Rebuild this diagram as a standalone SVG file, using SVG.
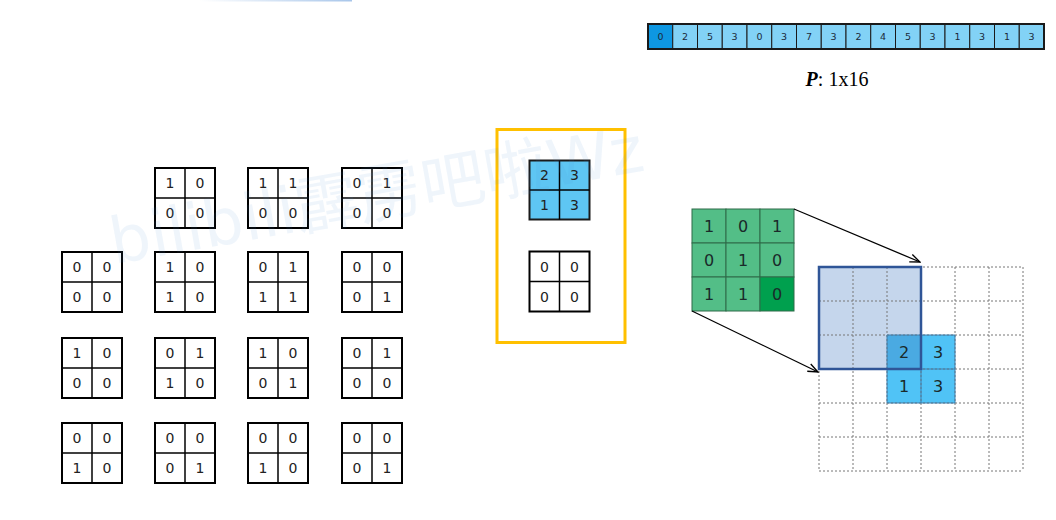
<svg xmlns="http://www.w3.org/2000/svg" width="1056" height="520" viewBox="0 0 1056 520">
<defs>
<linearGradient id="topbar" x1="0" y1="0" x2="1" y2="0">
<stop offset="0" stop-color="#ffffff"/>
<stop offset="1" stop-color="#a8c6ea"/>
</linearGradient>
<marker id="arr" markerUnits="userSpaceOnUse" markerWidth="12" markerHeight="10" refX="11" refY="5" orient="auto">
<path d="M1,1 L11,5 L1,9" fill="none" stroke="#000" stroke-width="1.3"/>
</marker>
<style>
.box{fill:#fff;stroke:#000;stroke-width:2}
.ln{stroke:#000;stroke-width:1.5}
.d{font-family:"DejaVu Sans",Verdana,sans-serif;font-size:14px;text-anchor:middle;fill:#222}
.s{font-family:"DejaVu Sans",Verdana,sans-serif;font-size:9.5px;text-anchor:middle;fill:#1a2a3a}
.g{font-family:"DejaVu Sans",Verdana,sans-serif;font-size:16px;text-anchor:middle;fill:#1a2a2a}
.cell{fill:#82d2f6;stroke:#1a1a1a;stroke-width:1}
.gc{fill:#53be87;stroke:#2e6b48;stroke-width:1}
.dash{stroke:#777;stroke-width:1;stroke-dasharray:2 2;fill:none}
</style>
</defs>
<rect width="1056" height="520" fill="#ffffff"/>
<rect x="200" y="0" width="152" height="1.5" fill="url(#topbar)"/>

<g id="P-vector">
<rect x="648" y="24" width="24.75" height="25" fill="#0e97e2" stroke="#1a1a1a" stroke-width="1"/>
<rect class="cell" x="672.75" y="24" width="24.75" height="25"/>
<rect class="cell" x="697.5" y="24" width="24.75" height="25"/>
<rect class="cell" x="722.25" y="24" width="24.75" height="25"/>
<rect class="cell" x="747" y="24" width="24.75" height="25"/>
<rect class="cell" x="771.75" y="24" width="24.75" height="25"/>
<rect class="cell" x="796.5" y="24" width="24.75" height="25"/>
<rect class="cell" x="821.25" y="24" width="24.75" height="25"/>
<rect class="cell" x="846" y="24" width="24.75" height="25"/>
<rect class="cell" x="870.75" y="24" width="24.75" height="25"/>
<rect class="cell" x="895.5" y="24" width="24.75" height="25"/>
<rect class="cell" x="920.25" y="24" width="24.75" height="25"/>
<rect class="cell" x="945" y="24" width="24.75" height="25"/>
<rect class="cell" x="969.75" y="24" width="24.75" height="25"/>
<rect class="cell" x="994.5" y="24" width="24.75" height="25"/>
<rect class="cell" x="1019.25" y="24" width="24.75" height="25"/>
<rect x="648" y="24" width="396" height="25" fill="none" stroke="#1a1a1a" stroke-width="2"/>
<text class="s" x="660.4" y="39.5">0</text>
<text class="s" x="685.1" y="39.5">2</text>
<text class="s" x="709.9" y="39.5">5</text>
<text class="s" x="734.6" y="39.5">3</text>
<text class="s" x="759.4" y="39.5">0</text>
<text class="s" x="784.1" y="39.5">3</text>
<text class="s" x="808.9" y="39.5">7</text>
<text class="s" x="833.6" y="39.5">3</text>
<text class="s" x="858.4" y="39.5">2</text>
<text class="s" x="883.1" y="39.5">4</text>
<text class="s" x="907.9" y="39.5">5</text>
<text class="s" x="932.6" y="39.5">3</text>
<text class="s" x="957.4" y="39.5">1</text>
<text class="s" x="982.1" y="39.5">3</text>
<text class="s" x="1006.9" y="39.5">1</text>
<text class="s" x="1031.6" y="39.5">3</text>
<text x="837" y="86" font-family="'Liberation Serif','Times New Roman',serif" font-size="20" text-anchor="middle" fill="#000"><tspan font-weight="bold" font-style="italic">P</tspan>: 1x16</text>
</g>

<g id="pattern-r1c2"><rect class="box" x="155" y="168" width="60" height="60"/><line class="ln" x1="185" y1="168" x2="185" y2="228"/><line class="ln" x1="155" y1="198" x2="215" y2="198"/><text class="d" x="170" y="188">1</text><text class="d" x="200" y="188">0</text><text class="d" x="170" y="218">0</text><text class="d" x="200" y="218">0</text></g>
<g id="pattern-r1c3"><rect class="box" x="248" y="168" width="60" height="60"/><line class="ln" x1="278" y1="168" x2="278" y2="228"/><line class="ln" x1="248" y1="198" x2="308" y2="198"/><text class="d" x="263" y="188">1</text><text class="d" x="293" y="188">1</text><text class="d" x="263" y="218">0</text><text class="d" x="293" y="218">0</text></g>
<g id="pattern-r1c4"><rect class="box" x="342" y="168" width="60" height="60"/><line class="ln" x1="372" y1="168" x2="372" y2="228"/><line class="ln" x1="342" y1="198" x2="402" y2="198"/><text class="d" x="357" y="188">0</text><text class="d" x="387" y="188">1</text><text class="d" x="357" y="218">0</text><text class="d" x="387" y="218">0</text></g>

<g id="pattern-r2c1"><rect class="box" x="62" y="252" width="60" height="60"/><line class="ln" x1="92" y1="252" x2="92" y2="312"/><line class="ln" x1="62" y1="282" x2="122" y2="282"/><text class="d" x="77" y="272">0</text><text class="d" x="107" y="272">0</text><text class="d" x="77" y="302">0</text><text class="d" x="107" y="302">0</text></g>
<g id="pattern-r2c2"><rect class="box" x="155" y="252" width="60" height="60"/><line class="ln" x1="185" y1="252" x2="185" y2="312"/><line class="ln" x1="155" y1="282" x2="215" y2="282"/><text class="d" x="170" y="272">1</text><text class="d" x="200" y="272">0</text><text class="d" x="170" y="302">1</text><text class="d" x="200" y="302">0</text></g>
<g id="pattern-r2c3"><rect class="box" x="248" y="252" width="60" height="60"/><line class="ln" x1="278" y1="252" x2="278" y2="312"/><line class="ln" x1="248" y1="282" x2="308" y2="282"/><text class="d" x="263" y="272">0</text><text class="d" x="293" y="272">1</text><text class="d" x="263" y="302">1</text><text class="d" x="293" y="302">1</text></g>
<g id="pattern-r2c4"><rect class="box" x="342" y="252" width="60" height="60"/><line class="ln" x1="372" y1="252" x2="372" y2="312"/><line class="ln" x1="342" y1="282" x2="402" y2="282"/><text class="d" x="357" y="272">0</text><text class="d" x="387" y="272">0</text><text class="d" x="357" y="302">0</text><text class="d" x="387" y="302">1</text></g>

<g id="pattern-r3c1"><rect class="box" x="62" y="338" width="60" height="60"/><line class="ln" x1="92" y1="338" x2="92" y2="398"/><line class="ln" x1="62" y1="368" x2="122" y2="368"/><text class="d" x="77" y="358">1</text><text class="d" x="107" y="358">0</text><text class="d" x="77" y="388">0</text><text class="d" x="107" y="388">0</text></g>
<g id="pattern-r3c2"><rect class="box" x="155" y="338" width="60" height="60"/><line class="ln" x1="185" y1="338" x2="185" y2="398"/><line class="ln" x1="155" y1="368" x2="215" y2="368"/><text class="d" x="170" y="358">0</text><text class="d" x="200" y="358">1</text><text class="d" x="170" y="388">1</text><text class="d" x="200" y="388">0</text></g>
<g id="pattern-r3c3"><rect class="box" x="248" y="338" width="60" height="60"/><line class="ln" x1="278" y1="338" x2="278" y2="398"/><line class="ln" x1="248" y1="368" x2="308" y2="368"/><text class="d" x="263" y="358">1</text><text class="d" x="293" y="358">0</text><text class="d" x="263" y="388">0</text><text class="d" x="293" y="388">1</text></g>
<g id="pattern-r3c4"><rect class="box" x="342" y="338" width="60" height="60"/><line class="ln" x1="372" y1="338" x2="372" y2="398"/><line class="ln" x1="342" y1="368" x2="402" y2="368"/><text class="d" x="357" y="358">0</text><text class="d" x="387" y="358">1</text><text class="d" x="357" y="388">0</text><text class="d" x="387" y="388">0</text></g>

<g id="pattern-r4c1"><rect class="box" x="62" y="423" width="60" height="60"/><line class="ln" x1="92" y1="423" x2="92" y2="483"/><line class="ln" x1="62" y1="453" x2="122" y2="453"/><text class="d" x="77" y="443">0</text><text class="d" x="107" y="443">0</text><text class="d" x="77" y="473">1</text><text class="d" x="107" y="473">0</text></g>
<g id="pattern-r4c2"><rect class="box" x="155" y="423" width="60" height="60"/><line class="ln" x1="185" y1="423" x2="185" y2="483"/><line class="ln" x1="155" y1="453" x2="215" y2="453"/><text class="d" x="170" y="443">0</text><text class="d" x="200" y="443">0</text><text class="d" x="170" y="473">0</text><text class="d" x="200" y="473">1</text></g>
<g id="pattern-r4c3"><rect class="box" x="248" y="423" width="60" height="60"/><line class="ln" x1="278" y1="423" x2="278" y2="483"/><line class="ln" x1="248" y1="453" x2="308" y2="453"/><text class="d" x="263" y="443">0</text><text class="d" x="293" y="443">0</text><text class="d" x="263" y="473">1</text><text class="d" x="293" y="473">0</text></g>
<g id="pattern-r4c4"><rect class="box" x="342" y="423" width="60" height="60"/><line class="ln" x1="372" y1="423" x2="372" y2="483"/><line class="ln" x1="342" y1="453" x2="402" y2="453"/><text class="d" x="357" y="443">0</text><text class="d" x="387" y="443">0</text><text class="d" x="357" y="473">0</text><text class="d" x="387" y="473">1</text></g>

<g id="selection">
<rect x="497" y="129.5" width="128" height="213" fill="none" stroke="#ffc000" stroke-width="3"/>
<g id="window-blue"><rect x="529.5" y="160.5" width="60" height="59" fill="#5ec6f3" stroke="#1a1a1a" stroke-width="2"/><line class="ln" x1="559.5" y1="160.5" x2="559.5" y2="219.5"/><line class="ln" x1="529.5" y1="190" x2="589.5" y2="190"/><text class="d" x="544.5" y="180">2</text><text class="d" x="574.5" y="180">3</text><text class="d" x="544.5" y="210">1</text><text class="d" x="574.5" y="210">3</text></g>
<g id="window-zero"><rect class="box" x="529.5" y="251.5" width="60" height="60"/><line class="ln" x1="559.5" y1="251.5" x2="559.5" y2="311.5"/><line class="ln" x1="529.5" y1="281.5" x2="589.5" y2="281.5"/><text class="d" x="544.5" y="271.5">0</text><text class="d" x="574.5" y="271.5">0</text><text class="d" x="544.5" y="301.5">0</text><text class="d" x="574.5" y="301.5">0</text></g>
</g>

<g id="kernel">
<rect class="gc" x="692" y="209" width="34" height="34"/><rect class="gc" x="726" y="209" width="34" height="34"/><rect class="gc" x="760" y="209" width="34" height="34"/>
<rect class="gc" x="692" y="243" width="34" height="34"/><rect class="gc" x="726" y="243" width="34" height="34"/><rect class="gc" x="760" y="243" width="34" height="34"/>
<rect class="gc" x="692" y="277" width="34" height="34"/><rect class="gc" x="726" y="277" width="34" height="34"/><rect x="760" y="277" width="34" height="34" fill="#00a04e" stroke="#2e6b48" stroke-width="1"/>
<text class="g" x="709" y="232">1</text><text class="g" x="743" y="232">0</text><text class="g" x="777" y="232">1</text>
<text class="g" x="709" y="266">0</text><text class="g" x="743" y="266">1</text><text class="g" x="777" y="266">0</text>
<text class="g" x="709" y="300">1</text><text class="g" x="743" y="300">1</text><text class="g" x="777" y="300">0</text>
</g>

<g id="input-grid">
<rect x="819" y="267" width="102" height="102" fill="#c5d6ec"/>
<rect x="887" y="335" width="68" height="68" fill="#50c3f6"/>
<rect x="887" y="335" width="34" height="34" fill="#4aaae2"/>
<path class="dash" d="M819,267 H1023 M819,301 H1023 M819,335 H1023 M819,369 H1023 M819,403 H1023 M819,437 H1023 M819,471 H1023 M819,267 V471 M853,267 V471 M887,267 V471 M921,267 V471 M955,267 V471 M989,267 V471 M1023,267 V471"/>
<path d="M887,335 H955 V403 H887 Z M921,335 V403 M887,369 H955" fill="none" stroke="#3c7fae" stroke-width="1"/>
<rect x="819" y="267" width="102" height="102" fill="none" stroke="#2f5597" stroke-width="2.5"/>
<text class="g" x="904" y="358">2</text><text class="g" x="938" y="358">3</text>
<text class="g" x="904" y="392">1</text><text class="g" x="938" y="392">3</text>
</g>

<g id="connectors">
<line x1="794" y1="209" x2="920" y2="262" stroke="#000" stroke-width="1.3" marker-end="url(#arr)"/>
<line x1="692" y1="311" x2="818" y2="372" stroke="#000" stroke-width="1.3" marker-end="url(#arr)"/>
</g>

<text x="114" y="264" transform="rotate(-10 114 264)" font-family="'DejaVu Sans','Noto Sans CJK SC',sans-serif" font-size="64" fill="#4a8fd0" fill-opacity="0.09">bilibili霹雳吧啦Wz</text>
</svg>
